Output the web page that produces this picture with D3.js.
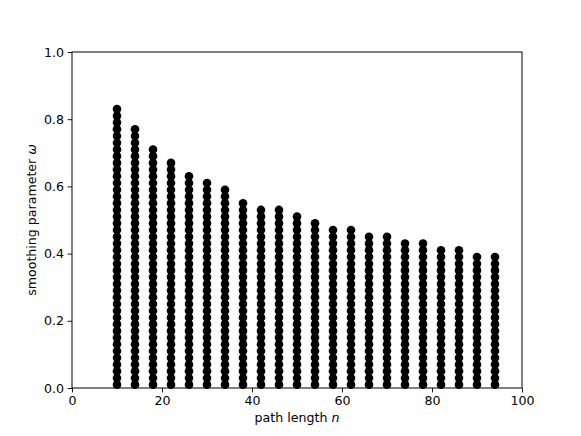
<!DOCTYPE html>
<html><head><meta charset="utf-8">
<script src="https://cdn.jsdelivr.net/npm/d3@7"></script>
<style>body{margin:0;background:#fff}svg{display:block}text{font-family:"DejaVu Sans",sans-serif}</style>
</head><body><svg id="c" width="581" height="436"></svg>
<script>
// path lengths n (x categories)
const pathLengths = [10,14,18,22,26,30,34,38,42,46,50,54,58,62,66,70,74,78,82,86,90,94];
// maximal smoothing parameter reached in each column
const maxOmega = [0.83,0.77,0.71,0.67,0.63,0.61,0.59,0.55,0.53,0.53,0.51,0.49,0.47,0.47,0.45,0.45,0.43,0.43,0.41,0.41,0.39,0.39];
// omega grid levels tested
const omegaGrid = [0.01,0.03,0.05,0.07,0.09,0.11,0.13,0.15,0.17,0.19,0.21,0.23,0.25,0.27,0.29,0.31,0.33,0.35,0.37,0.39,0.41,0.43,0.45,0.47,0.49,0.51,0.53,0.55,0.57,0.59,0.61,0.63,0.65,0.67,0.69,0.71,0.73,0.75,0.77,0.79,0.81,0.83];
const xTicks = [0,20,40,60,80,100];
const yTicks = [0.0,0.2,0.4,0.6,0.8,1.0];

const svg = d3.select("#c");
const L=72, R=522, T=52, B=388;
const x = d3.scaleLinear().domain([0,100]).range([L,R]);
const y = d3.scaleLinear().domain([0,1]).range([B,T]);

const pts = [];
pathLengths.forEach((n,i)=>omegaGrid.forEach(w=>{ if (w <= maxOmega[i]+1e-9) pts.push({n,w}); }));

svg.append("g").selectAll("circle").data(pts).join("circle")
  .attr("cx",d=>x(d.n)).attr("cy",d=>y(d.w)).attr("r",4.3).attr("fill","#000");

const xa = svg.append("g").attr("transform",`translate(0,${B})`)
  .call(d3.axisBottom(x).tickValues(xTicks).tickFormat(d3.format("d")).tickSize(4.4).tickPadding(3.5));
const ya = svg.append("g").attr("transform",`translate(${L},0)`)
  .call(d3.axisLeft(y).tickValues(yTicks).tickFormat(d3.format(".1f")).tickSize(4.4).tickPadding(3.5));
[xa,ya].forEach(a=>{a.select(".domain").remove();a.selectAll("text").attr("font-size",12.6).attr("fill","#000").attr("font-family","DejaVu Sans");a.selectAll("line").attr("stroke","#000").attr("stroke-width",0.9);});

svg.append("rect").attr("x",L).attr("y",T).attr("width",R-L).attr("height",B-T)
  .attr("fill","none").attr("stroke","#000").attr("stroke-width",1);

svg.append("text").attr("x",(L+R)/2).attr("y",422).attr("text-anchor","middle").attr("font-size",12.6)
  .html('path length <tspan font-style="italic">n</tspan>');
svg.append("text").attr("transform",`translate(36,${(T+B)/2}) rotate(-90)`).attr("text-anchor","middle").attr("font-size",12.6)
  .html('smoothing parameter <tspan font-style="italic">ω</tspan>');
</script></body></html>
